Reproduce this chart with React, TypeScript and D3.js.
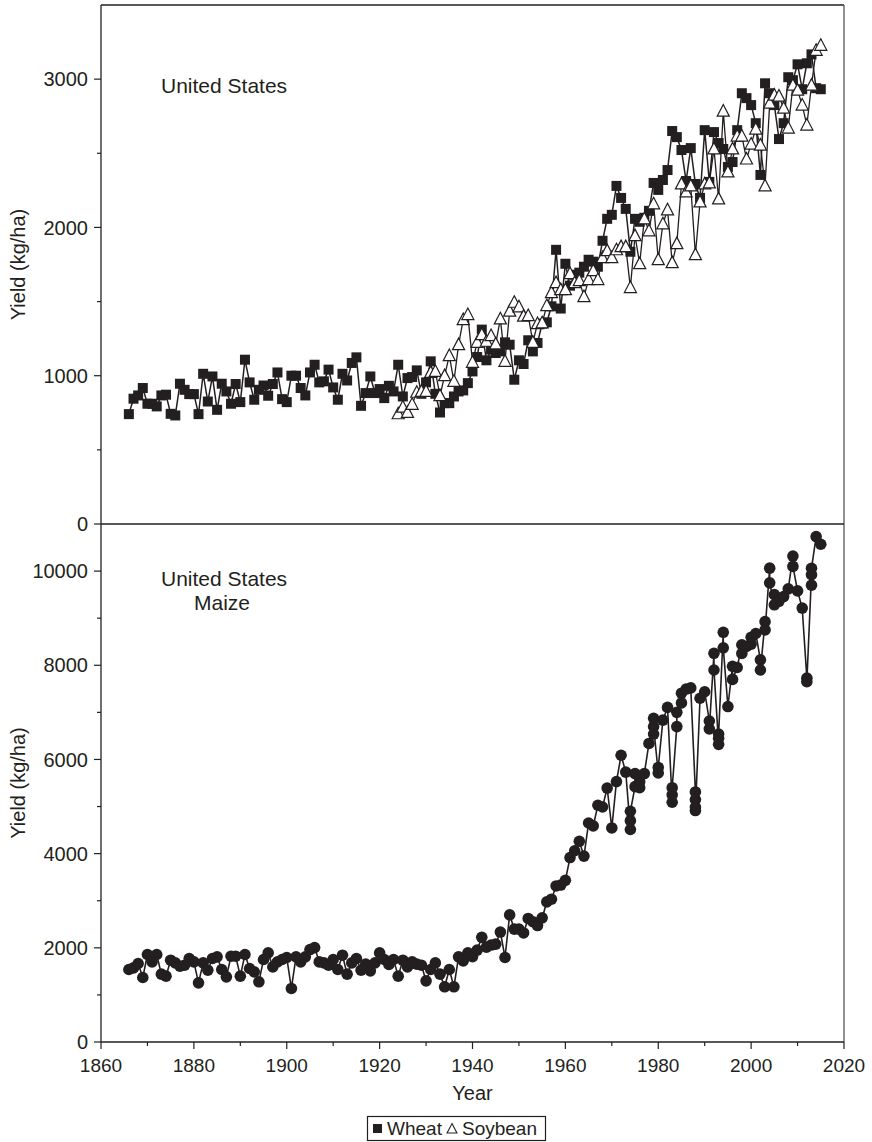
// @ts-nocheck
import React from "react";
import * as d3 from "d3";

// ---- data (kg/ha) ----
const wheatStart = 1866;
const wheatYield = [
  741, 845, 867, 917, // 1866-1869
  811, 811, 793, 867, 872, 743, 732, 946, 905, 876, // 1870s
  876, 741, 1013, 826, 995, 770, 946, 894, 811, 944, // 1880s
  822, 1108, 955, 838, 905, 934, 865, 944, 1022, 842, // 1890s
  822, 1000, 1000, 917, 867, 1022, 1074, 955, 962, 1041, // 1900s
  921, 838, 1013, 968, 1086, 1124, 797, 883, 995, 883, // 1910s
  910, 849, 932, 894, 1074, 860, 984, 991, 1036, 878, // 1920s
  955, 1097, 878, 752, 815, 815, 860, 894, 901, 950, // 1930s
  1029, 1126, 1311, 1104, 1176, 1153, 1164, 1225, 1209, 973, // 1940s
  1104, 1079, 1239, 1164, 1221, 1351, 1360, 1468, 1849, 1453, // 1950s
  1755, 1607, 1681, 1695, 1735, 1782, 1769, 1735, 1910, 2058, // 1960s
  2085, 2280, 2199, 2125, 1836, 2058, 2038, 2065, 2112, 2300, // 1970s
  2253, 2320, 2387, 2650, 2609, 2522, 2313, 2535, 2293, 2199, // 1980s
  2656, 2307, 2643, 2569, 2529, 2408, 2441, 2656, 2905, 2872, // 1990s
  2825, 2703, 2354, 2972, 2905, 2825, 2596, 2703, 3013, 2993, // 2000s
  3100, 2932, 3107, 3167, 2939, 2932, // 2010-2015
];

const soyStart = 1924;
const soyYield = [
  743, 788, 752, 807, 888, 894, // 1924-1929
  894, 1022, 1029, 865, 1000, 1135, 962, 1209, 1378, 1412, // 1930s
  1090, 1225, 1277, 1232, 1270, 1214, 1383, 1097, 1435, 1495, // 1940s
  1464, 1401, 1405, 1225, 1351, 1356, 1473, 1560, 1627, 1580, // 1950s
  1580, 1688, 1627, 1641, 1533, 1648, 1708, 1648, 1796, 1843, // 1960s
  1796, 1849, 1870, 1870, 1594, 1944, 1755, 2058, 1977, 2159, // 1970s
  1782, 2024, 2118, 1762, 1890, 2293, 2239, 2280, 1816, 2172, // 1980s
  2293, 2300, 2529, 2192, 2784, 2374, 2529, 2616, 2616, 2461, // 1990s
  2562, 2663, 2555, 2280, 2838, 2892, 2885, 2804, 2670, 2959, // 2000s
  2925, 2825, 2690, 2959, 3194, 3228, // 2010-2015
];

const maizeStart = 1866;
const maizeYield = [
  1540, 1574, 1667, 1370, // 1866-1869
  1858, 1701, 1858, 1441, 1398, 1737, 1680, 1610, 1631, 1773, // 1870s
  1701, 1256, 1680, 1525, 1773, 1808, 1540, 1384, 1822, 1822, // 1880s
  1398, 1858, 1561, 1490, 1278, 1752, 1892, 1596, 1701, 1752, // 1890s
  1794, 1137, 1808, 1701, 1808, 1963, 2005, 1701, 1680, 1631, // 1900s
  1752, 1540, 1843, 1441, 1680, 1773, 1525, 1653, 1511, 1680, // 1910s
  1892, 1752, 1646, 1752, 1398, 1737, 1596, 1701, 1653, 1631, // 1920s
  1299, 1540, 1680, 1441, 1172, 1540, 1172, 1808, 1723, 1892, // 1930s
  1814, 1952, 2222, 2015, 2059, 2078, 2335, 1795, 2699, 2398, // 1940s
  2398, 2316, 2624, 2555, 2473, 2636, 2975, 3032, 3314, 3333, // 1950s
  3434, 3917, 4061, 4262, 3948, 4651, 4589, 5028, 4990, 5392, // 1960s
  4545, 5530, 6089, 5731, 4513, 5423, 5524, 5700, 6340, 6873, // 1970s
  5712, 6836, 7105, 5091, 6698, 7407, 7495, 7520, 5310, 7300, // 1980s
  7438, 6817, 8254, 6321, 8700, 7124, 7978, 7953, 8436, 8399, // 1990s
  8593, 8675, 8116, 8926, 10062, 9284, 9359, 9459, 9623, 10319, // 2000s
  9579, 9215, 7727, 9924, 10733, 10570, // 2010-2015
];

// repeated readings for the same year (stacked markers)
const maizeRepeats = [
  [1974, 4700], [1974, 4900], [1975, 5700], [1976, 5400],
  [1979, 6540], [1979, 6700], [1980, 5830],
  [1983, 5250], [1983, 5400], [1984, 7000], [1985, 7200],
  [1988, 5150], [1988, 4990], [1988, 4915],
  [1991, 6650], [1992, 7900], [1993, 6450], [1993, 6540], [1994, 8370],
  [1996, 7700], [1998, 8250], [2000, 8450],
  [2002, 7900], [2003, 8750], [2004, 9750], [2005, 9500], [2009, 10100], [2012, 7650],
  [2013, 9700], [2013, 10060],
];

const xTicks = [1860, 1880, 1900, 1920, 1940, 1960, 1980, 2000, 2020];
const xMinor = [1870, 1890, 1910, 1930, 1950, 1970, 1990, 2010];
const topTicks = [0, 1000, 2000, 3000];
const topMinor = [500, 1500, 2500];
const botTicks = [0, 2000, 4000, 6000, 8000, 10000];
const botMinor = [1000, 3000, 5000, 7000, 9000];

const INK = "#231f20";
const FONT = "'Liberation Sans', Arial, sans-serif";

export default function App() {
  const L = 101, R = 844, T = 5, MID = 524, B = 1042;
  const x = d3.scaleLinear().domain([1860, 2020]).range([L, R]);
  const yTop = d3.scaleLinear().domain([0, 3500]).range([MID, T]);
  const yBot = d3.scaleLinear().domain([0, 11000]).range([B, MID]);

  const wheat = wheatYield.map((v, i) => ({ year: wheatStart + i, v }));
  const soy = soyYield.map((v, i) => ({ year: soyStart + i, v }));
  const maize = [];
  maizeYield.forEach((v, i) => {
    const year = maizeStart + i;
    maize.push({ year, v });
    maizeRepeats.filter((r) => r[0] === year).forEach((r) => maize.push({ year, v: r[1] }));
  });

  const lineTop = d3.line().x((d) => x(d.year)).y((d) => yTop(d.v));
  const lineBot = d3.line().x((d) => x(d.year)).y((d) => yBot(d.v));

  const tri = (cx, cy, s) =>
    `M${cx},${cy - s * 0.6}L${cx + s * 0.55},${cy + s * 0.45}L${cx - s * 0.55},${cy + s * 0.45}Z`;

  return (
    <svg width={872} height={1142} style={{ position: "absolute", left: 0, top: 0, background: "#fff" }}
      fontFamily={FONT} fill={INK}>
      {/* frame */}
      <line x1={L} x2={R} y1={T} y2={T} stroke={INK} strokeWidth={1.3} />
      <line x1={R} x2={R} y1={T} y2={B} stroke="#555" strokeWidth={1.3} />
      <line x1={L} x2={L} y1={T} y2={B} stroke={INK} strokeWidth={1.3} />
      <line x1={L} x2={R} y1={MID} y2={MID} stroke={INK} strokeWidth={1.3} />
      <line x1={L} x2={R} y1={B} y2={B} stroke={INK} strokeWidth={1.3} />

      {/* top y axis */}
      {topTicks.map((t) => (
        <g key={"tt" + t}>
          <line x1={L - 7} x2={L} y1={yTop(t)} y2={yTop(t)} stroke={INK} strokeWidth={1.2} />
          <text x={L - 13} y={yTop(t)} dy="0.36em" textAnchor="end" fontSize={20}>{t}</text>
        </g>
      ))}
      {topMinor.map((t) => (
        <line key={"tm" + t} x1={L - 4} x2={L} y1={yTop(t)} y2={yTop(t)} stroke={INK} strokeWidth={1.2} />
      ))}
      {/* bottom y axis */}
      {botTicks.map((t) => (
        <g key={"bt" + t}>
          <line x1={L - 7} x2={L} y1={yBot(t)} y2={yBot(t)} stroke={INK} strokeWidth={1.2} />
          <text x={L - 13} y={yBot(t)} dy="0.36em" textAnchor="end" fontSize={20}>{t}</text>
        </g>
      ))}
      {botMinor.map((t) => (
        <line key={"bm" + t} x1={L - 4} x2={L} y1={yBot(t)} y2={yBot(t)} stroke={INK} strokeWidth={1.2} />
      ))}
      {/* x axis */}
      {xTicks.map((t) => (
        <g key={"xt" + t}>
          <line x1={x(t)} x2={x(t)} y1={B} y2={B + 7} stroke={INK} strokeWidth={1.2} />
          <text x={x(t)} y={1072} textAnchor="middle" fontSize={19}>{t}</text>
        </g>
      ))}
      {xMinor.map((t) => (
        <line key={"xm" + t} x1={x(t)} x2={x(t)} y1={B} y2={B + 4} stroke={INK} strokeWidth={1.2} />
      ))}

      <text x={(L + R) / 2} y={1100} textAnchor="middle" fontSize={20}>Year</text>
      <text transform={`translate(25,${(T + MID) / 2}) rotate(-90)`} textAnchor="middle" fontSize={20}>Yield (kg/ha)</text>
      <text transform={`translate(25,${(MID + B) / 2}) rotate(-90)`} textAnchor="middle" fontSize={20}>Yield (kg/ha)</text>

      <text x={161} y={93} fontSize={21}>United States</text>
      <text x={161} y={586} fontSize={21}>United States</text>
      <text x={222} y={610} fontSize={21} textAnchor="middle">Maize</text>

      {/* wheat */}
      <path d={lineTop(wheat)} fill="none" stroke={INK} strokeWidth={1.5} />
      {wheat.map((d) => (
        <rect key={"w" + d.year} x={x(d.year) - 5} y={yTop(d.v) - 5} width={10} height={10} fill={INK} />
      ))}
      {/* soybean */}
      <path d={lineTop(soy)} fill="none" stroke={INK} strokeWidth={1.3} />
      {soy.map((d) => (
        <path key={"s" + d.year} d={tri(x(d.year), yTop(d.v), 11)} fill="#fff" stroke={INK} strokeWidth={1.2} />
      ))}

      {/* maize */}
      <path d={lineBot(maize)} fill="none" stroke={INK} strokeWidth={1.6} />
      {maize.map((d, i) => (
        <circle key={"m" + i} cx={x(d.year)} cy={yBot(d.v)} r={5.8} fill={INK} />
      ))}

      {/* legend */}
      <rect x={367.5} y={1116.5} width={178} height={24} fill="#fff" stroke={INK} strokeWidth={1.2} />
      <rect x={373} y={1124} width={9} height={9} fill={INK} />
      <text x={387} y={1135} fontSize={19}>Wheat</text>
      <path d={tri(452, 1129, 9)} fill="#fff" stroke={INK} strokeWidth={1.1} />
      <text x={462} y={1135} fontSize={19}>Soybean</text>
    </svg>
  );
}
